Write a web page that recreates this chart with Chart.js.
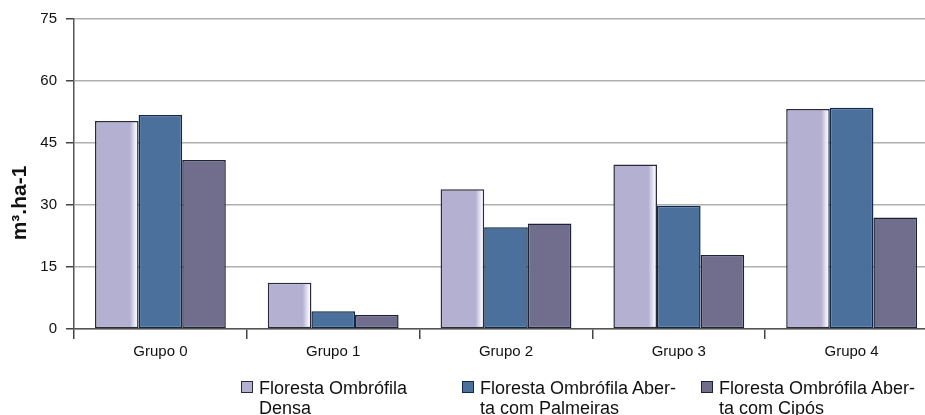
<!DOCTYPE html>
<html>
<head>
<meta charset="utf-8">
<script src="https://cdn.jsdelivr.net/npm/chart.js@4.4.1/dist/chart.umd.min.js"></script>
<style>
  html, body { margin: 0; padding: 0; background: #fff; overflow: hidden; }
  #wrap { position: relative; width: 940px; height: 415px; }
  .leg { position: absolute; top: 378px; font: 18px "Liberation Sans", Arial, sans-serif; color: #111; line-height: 20px; }
  .leg .box { position: absolute; left: 0; top: 3px; width: 10px; height: 10px; border: 1px solid #222; }
  .leg .txt { position: absolute; left: 18px; top: 0; white-space: nowrap; }
</style>
</head>
<body>
<div id="wrap">
  <canvas id="chart" width="940" height="415"></canvas>
  <div id="legend"></div>
</div>
<script>
let categories = ["Grupo 0", "Grupo 1", "Grupo 2", "Grupo 3", "Grupo 4"];
let densa = [50.3, 11.2, 33.8, 39.8, 53.2];
let palmeiras = [51.8, 4.3, 24.6, 29.8, 53.5];
let cipos = [40.9, 3.4, 25.5, 17.9, 27.0];
let seriesNames = [
  ["Floresta Ombrófila", "Densa"],
  ["Floresta Ombrófila Aber-", "ta com Palmeiras"],
  ["Floresta Ombrófila Aber-", "ta com Cipós"]
];
let yTicks = [0, 15, 30, 45, 60, 75];

let fills = ["#b4b0d1", "#4b709c", "#716d8d"];
let borders = ["#2a2a38", "#0d2a4a", "#1e2238"];
let legendX = [241, 462, 701];
let catPct = 0.757;

// y axis title drawn lower than the axis center, like the original
const yTitle = {
  id: "yTitle",
  afterDraw(chart) {
    let ctx = chart.ctx;
    ctx.save();
    ctx.translate(20, 203);
    ctx.rotate(-Math.PI / 2);
    ctx.font = "bold 21px 'Liberation Sans', Arial, sans-serif";
    ctx.fillStyle = "#111";
    ctx.textAlign = "center";
    ctx.textBaseline = "middle";
    ctx.fillText("m³.ha-1", 0, 0);
    ctx.restore();
  }
};

// light bars have a white shine on their right side
function densaFill(context) {
  let chart = context.chart;
  let xs = chart.scales.x;
  if (!xs || !chart.chartArea || context.dataIndex == null) return fills[0];
  let catW = xs.width / categories.length;
  let barW = (catW * catPct) / 3;
  let left = xs.getPixelForValue(context.dataIndex) - 1.5 * barW;
  let g = chart.ctx.createLinearGradient(left, 0, left + barW, 0);
  g.addColorStop(0, fills[0]);
  g.addColorStop(0.8, fills[0]);
  g.addColorStop(0.9, "#e2e0f5");
  g.addColorStop(0.96, "#fbfbff");
  g.addColorStop(1, "#d6d3ee");
  return g;
}

let datasets = [densa, palmeiras, cipos].map((values, i) => ({
  label: seriesNames[i].join(" "),
  data: values,
  backgroundColor: i == 0 ? densaFill : fills[i],
  borderColor: borders[i],
  borderWidth: 1.5,
  borderSkipped: false,
  barPercentage: 1,
  categoryPercentage: catPct
}));

new Chart(document.getElementById("chart"), {
  type: "bar",
  data: { labels: categories, datasets: datasets },
  plugins: [yTitle],
  options: {
    responsive: false,
    animation: false,
    layout: { padding: { top: 19, right: 2, bottom: 0, left: 0 } },
    plugins: { legend: { display: false }, tooltip: { enabled: false } },
    scales: {
      x: {
        offset: true,
        grid: { display: true, drawOnChartArea: false, drawTicks: true, tickLength: 10, color: "#444", lineWidth: 1.5 },
        border: { display: true, color: "#555", width: 1.5 },
        ticks: { color: "#111", font: { family: "'Liberation Sans', Arial, sans-serif", size: 15 }, padding: 4 },
        afterFit: (scale) => { scale.height = 415 - 329; }
      },
      y: {
        min: 0,
        max: 75,
        afterBuildTicks: (scale) => { scale.ticks = yTicks.map((v) => ({ value: v })); },
        grid: { color: "#b0b0b0", lineWidth: 1.5, tickLength: 8, tickColor: "#444" },
        border: { display: true, color: "#555", width: 1.5 },
        ticks: { color: "#111", font: { family: "'Liberation Sans', Arial, sans-serif", size: 15 }, padding: 9 },
        afterFit: (scale) => { scale.width = 74; }
      }
    }
  }
});

// legend with wrapped labels
let cartona = "";
for (let i = 0; i < seriesNames.length; i++) {
  cartona += `
    <div class="leg" style="left:${legendX[i]}px">
      <div class="box" style="background:${fills[i]};border-color:${borders[i]}"></div>
      <div class="txt">${seriesNames[i][0]}<br>${seriesNames[i][1]}</div>
    </div>`;
}
document.getElementById("legend").innerHTML = cartona;
</script>
</body>
</html>
